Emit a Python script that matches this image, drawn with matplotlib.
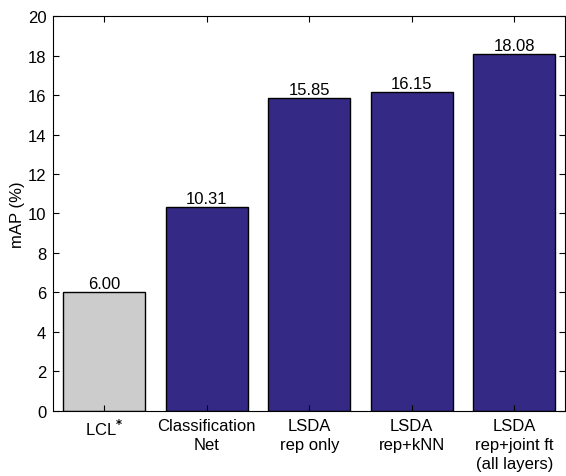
import matplotlib
matplotlib.use("Agg")
import matplotlib.pyplot as plt

plt.rcParams['font.family'] = ['Liberation Sans', 'DejaVu Sans']
plt.rcParams['mathtext.fontset'] = 'custom'
plt.rcParams['mathtext.rm'] = 'Liberation Sans'
plt.rcParams['mathtext.bf'] = 'DejaVu Sans:bold'

# data
labels = ["LCL$^{\\mathbf{*}}$", "Classification\nNet", "LSDA\nrep only",
          "LSDA\nrep+kNN", "LSDA\nrep+joint ft\n(all layers)"]
values = [6.00, 10.31, 15.85, 16.15, 18.08]
colors = ["#cccccc", "#342a85", "#342a85", "#342a85", "#342a85"]

fig = plt.figure(figsize=(5.66, 4.77), dpi=100)
ax = fig.add_axes([0.094, 0.137, 0.905, 0.827])

x = list(range(1, len(values) + 1))
ax.bar(x, values, width=0.8, color=colors, edgecolor="black", linewidth=1.0)
for xi, v in zip(x, values):
    ax.text(xi, v + 0.05, "%.2f" % v, ha="center", va="bottom", fontsize=12)

ax.set_xlim(0.5, 5.5)
ax.set_ylim(0, 20)
ax.set_yticks(range(0, 21, 2))
ax.set_xticks(x)
ax.set_xticklabels(labels, fontsize=12, va="top", linespacing=1.35)
ax.tick_params(axis="both", direction="in", top=True, right=True, labelsize=12, length=4)
ax.tick_params(axis="x", pad=5)
ax.tick_params(axis="y", pad=5)
ax.set_ylabel("mAP (%)", fontsize=12, labelpad=2)

fig.savefig("out.png", dpi=100)
